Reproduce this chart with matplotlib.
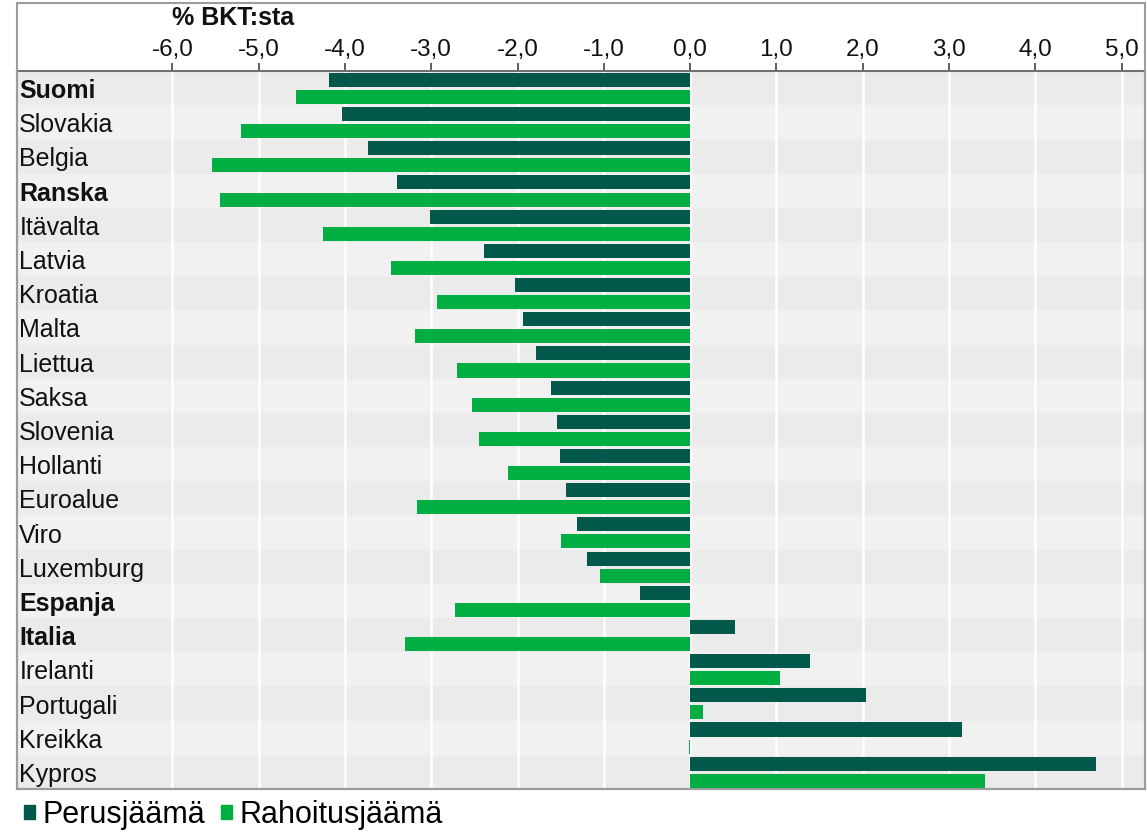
import numpy as np
import matplotlib
matplotlib.use('Agg')
import matplotlib.pyplot as plt
import matplotlib.transforms as mtransforms
from matplotlib.patches import Patch, Rectangle

plt.rcParams['font.family'] = ['Liberation Sans', 'DejaVu Sans']

# data (% of GDP)
countries = ['Suomi', 'Slovakia', 'Belgia', 'Ranska', 'Itävalta', 'Latvia', 'Kroatia',
             'Malta', 'Liettua', 'Saksa', 'Slovenia', 'Hollanti', 'Euroalue', 'Viro',
             'Luxemburg', 'Espanja', 'Italia', 'Irelanti', 'Portugali', 'Kreikka', 'Kypros']
bold_names = ['Suomi', 'Ranska', 'Espanja', 'Italia']
perusjaama = [-4.18, -4.04, -3.73, -3.40, -3.01, -2.39, -2.03, -1.94, -1.79, -1.61, -1.54,
              -1.51, -1.44, -1.31, -1.20, -0.58, 0.52, 1.39, 2.04, 3.15, 4.70]
rahoitusjaama = [-4.57, -5.20, -5.54, -5.45, -4.25, -3.47, -2.93, -3.19, -2.70, -2.53, -2.45,
                 -2.11, -3.17, -1.50, -1.05, -2.72, -3.31, 1.04, 0.15, -0.01, 3.42]
ticks = [-6, -5, -4, -3, -2, -1, 0, 1, 2, 3, 4, 5]
tick_labels = ['-6,0', '-5,0', '-4,0', '-3,0', '-2,0', '-1,0', '0,0', '1,0', '2,0', '3,0', '4,0', '5,0']
series_names = ['Perusjäämä', 'Rahoitusjäämä']

dark = '#02584b'
green = '#00ae42'
frame = '#9c9c9c'

W, H = 1147, 832
fig = plt.figure(figsize=(W / 100, H / 100), dpi=100)
ax = fig.add_axes([17 / W, 1 - 789 / H, (1145 - 17) / W, (789 - 71) / H])

n = len(countries)
y = np.arange(n)

# alternating row bands
for i in range(n):
    ax.axhspan(i - 0.5, i + 0.5, color='#ebebeb' if i % 2 == 0 else '#f1f1f1', lw=0, zorder=0)

ax.barh(y - 0.24, perusjaama, height=0.41, color=dark, zorder=3)
ax.barh(y + 0.26, rahoitusjaama, height=0.41, color=green, zorder=3)

ax.set_ylim(n - 0.5, -0.5)
ax.set_xlim(-7.80, 5.27)

ax.xaxis.tick_top()
ax.set_xticks(ticks)
ax.set_xticklabels(tick_labels)
ax.set_yticks([])
ax.tick_params(axis='x', direction='out', length=6, width=1.2, color='#444444',
               pad=1, labelsize=17.5, labelcolor='#111111')
ax.set_axisbelow(True)
ax.grid(axis='x', color='white', lw=1.8)

for side in ['left', 'right', 'bottom']:
    ax.spines[side].set_color(frame)
    ax.spines[side].set_linewidth(1.5)
ax.spines['top'].set_color('#707070')
ax.spines['top'].set_linewidth(1.5)

# country names inside the plot, nudged down a few pixels
label_tr = ax.get_yaxis_transform() + mtransforms.ScaledTranslation(0, -3 / 100, fig.dpi_scale_trans)
for i, name in enumerate(countries):
    ax.text(0.002, i, name, transform=label_tr, va='center', ha='left',
            fontsize=18, color='#111111',
            fontweight='bold' if name in bold_names else 'normal', zorder=4)

# outer frame around header + plot
fig.patches.append(Rectangle((17 / W, 1 - 789 / H), (1145 - 17) / W, (789 - 3) / H,
                             transform=fig.transFigure, fill=False, edgecolor=frame, lw=1.5))

fig.text(233 / W, 1 - 18 / H, '% BKT:sta', ha='center', va='center',
         fontsize=18, fontweight='bold', color='#111111')

handles = [Patch(color=dark, label=series_names[0]), Patch(color=green, label=series_names[1])]
fig.legend(handles=handles, loc='center left', bbox_to_anchor=(24 / W, 1 - 815 / H),
           ncol=2, frameon=False, fontsize=22, handlelength=0.36, handleheight=0.36,
           handletextpad=0.25, columnspacing=0.5, borderaxespad=0, borderpad=0)

fig.savefig('out.png', dpi=100)
